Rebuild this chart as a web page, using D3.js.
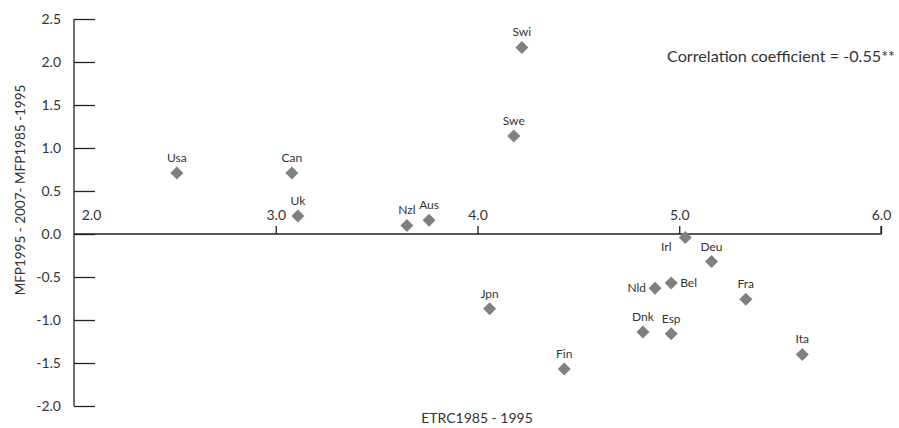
<!DOCTYPE html>
<html><head><meta charset="utf-8">
<script src="https://cdn.jsdelivr.net/npm/d3@7"></script>
<style>body{margin:0;background:#fff}svg{display:block}text{font-family:Lato,"Noto Sans",sans-serif;fill:#333}</style>
</head><body><svg id="c" width="899" height="428"></svg>
<script>
const countries = ["Usa","Can","Uk","Nzl","Aus","Swi","Swe","Jpn","Fin","Irl","Deu","Bel","Nld","Fra","Dnk","Esp","Ita"];
const etrc = [2.51,3.08,3.11,3.65,3.76,4.22,4.18,4.06,4.43,5.03,5.16,4.96,4.88,5.33,4.82,4.96,5.61];
const mfpDiff = [0.71,0.71,0.21,0.10,0.16,2.17,1.14,-0.87,-1.57,-0.04,-0.32,-0.57,-0.63,-0.76,-1.14,-1.16,-1.40];
const labelPos = ["top","top","top","top","top","top","top","top","top","bottomleft","top","right","left","top","top","top","top"];
const xTicks = [2.0,3.0,4.0,5.0,6.0];
const yTicks = [2.5,2.0,1.5,1.0,0.5,0.0,-0.5,-1.0,-1.5,-2.0];

const fmt = v => d3.format(".1f")(v).replace("\u2212","-");
const svg = d3.select("#c");
const x = d3.scaleLinear().domain([2,6]).range([74,881]);
const y = d3.scaleLinear().domain([-2,2.5]).range([406,19]);

// y axis
const ya = svg.append("g").attr("transform",`translate(${x(2)},0)`)
  .call(d3.axisRight(y).tickValues(yTicks).tickSize(21).tickFormat(fmt));
ya.select(".domain").attr("d",`M0,${y(2.5)}V${y(-2)}`).attr("stroke","#222").attr("stroke-width",1.3);
ya.selectAll(".tick line").attr("stroke","#222").attr("stroke-width",1.3);
ya.selectAll(".tick text").attr("x",-13).attr("text-anchor","end").attr("font-size",14).attr("fill","#333")
  .attr("font-family","Lato,'Noto Sans',sans-serif");

// x axis at y=0
const xa = svg.append("g").attr("transform",`translate(0,${y(0)})`)
  .call(d3.axisTop(x).tickValues(xTicks).tickSize(8).tickFormat(fmt));
xa.select(".domain").attr("d",`M${x(2)},0H${x(6)}V-8`).attr("stroke","#222").attr("stroke-width",1.3);
xa.selectAll(".tick line").attr("stroke","#222").attr("stroke-width",1.3).style("display",d=>d===2?"none":null);
xa.selectAll(".tick text").attr("y",-14).attr("font-size",14).attr("fill","#333")
  .attr("font-family","Lato,'Noto Sans',sans-serif")
  .attr("dx",d=>d===2?17:0);

// points
const data = countries.map((c,i)=>({c,x:etrc[i],y:mfpDiff[i],p:labelPos[i]}));
const s=6.5;
svg.append("g").selectAll("path").data(data).join("path")
  .attr("d",d=>`M${x(d.x)},${y(d.y)-s}L${x(d.x)+s},${y(d.y)}L${x(d.x)},${y(d.y)+s}L${x(d.x)-s},${y(d.y)}Z`)
  .attr("fill","#808080");

svg.append("g").selectAll("text").data(data).join("text")
  .attr("font-size",12).attr("fill","#333")
  .attr("x",d=>{const px=x(d.x);return d.p==="left"?px-9:d.p==="right"?px+9:d.p==="bottomleft"?px-19:px;})
  .attr("y",d=>{const py=y(d.y);return d.p==="top"?py-11:d.p==="bottomleft"?py+14:py+4;})
  .attr("text-anchor",d=>d.p==="left"?"end":d.p==="right"?"start":"middle")
  .text(d=>d.c);

// axis titles
svg.append("text").attr("x",477).attr("y",423).attr("text-anchor","middle").attr("font-size",14).text("ETRC1985 - 1995");
svg.append("text").attr("transform","translate(25,190) rotate(-90)").attr("text-anchor","middle").attr("font-size",13.5)
  .text("MFP1995 - 2007- MFP1985 -1995");
svg.append("text").attr("x",895).attr("y",62).attr("text-anchor","end").attr("font-size",15)
  .attr("textLength",228).attr("lengthAdjust","spacingAndGlyphs")
  .text("Correlation coefficient = -0.55**");
</script></body></html>
